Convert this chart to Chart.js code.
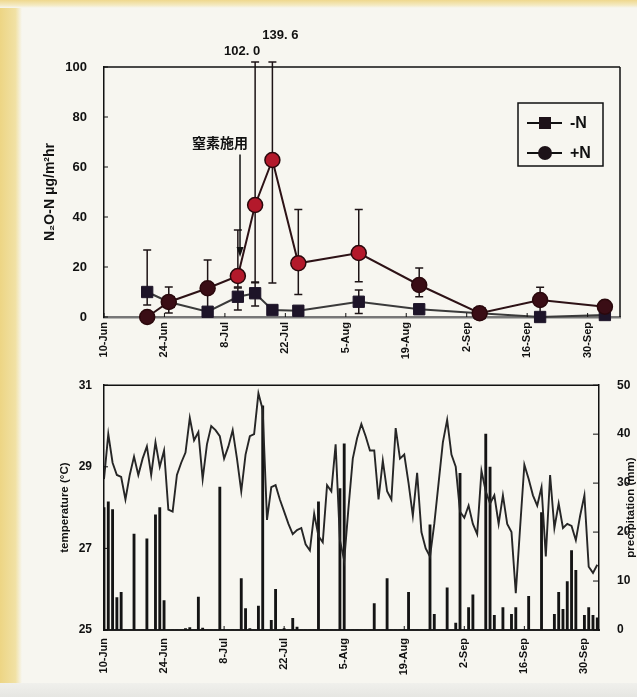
<!DOCTYPE html>
<html><head><meta charset="utf-8">
<script src="https://cdn.jsdelivr.net/npm/chart.js@4.4.1/dist/chart.umd.min.js"></script>
<style>
html,body{margin:0;padding:0;}
body{width:637px;height:697px;position:relative;overflow:hidden;background:#f7f6f0;}
#stripL{position:absolute;left:0;top:0;width:22px;height:697px;background:linear-gradient(to right,#edd584,#f1e1a4 70%,#f7f6f0);}
#stripT{position:absolute;left:0;top:0;width:637px;height:8px;background:linear-gradient(to bottom,#efd88e,#f4eac2 65%,#f7f6f0);}
#stripB{position:absolute;left:0;top:683px;width:637px;height:14px;background:linear-gradient(to bottom,#f0f0ec,#e6e6e2);}
canvas{position:absolute;left:0;}
#c1{top:0;}
#c2{top:360px;}
</style></head><body>
<div id="stripL"></div><div id="stripT"></div><div id="stripB"></div>
<canvas id="c1" width="637" height="375"></canvas>
<canvas id="c2" width="637" height="337"></canvas>
<script>
// ---- data ----
const tickDays = [0, 14, 28, 42, 56, 70, 84, 98, 112];
const tickLabels = ['10-Jun', '24-Jun', '8-Jul', '22-Jul', '5-Aug', '19-Aug', '2-Sep', '16-Sep', '30-Sep'];

// N2O-N flux sampling (days after 10-Jun)
const sampleDays = [10, 15, 24, 31, 35, 39, 45, 59, 73, 87, 101, 116];
const minusN     = [10, 6, 2.1, 8.1, 9.5, 2.8, 2.5, 6.1, 3.1, 1.5, 0, 0.8];
const minusNHigh = [26.8, 12, 2.1, 11.6, 13.7, 2.8, 2.5, 10.8, 5, 1.5, 0, 0.8];
const minusNLow  = [4.8, 1.6, 2.1, 2.8, 4.4, 2.8, 2.5, 1.4, 1.2, 1.5, 0, 0.8];
const plusN      = [0, 6, 11.5, 16.4, 44.8, 62.8, 21.5, 25.6, 12.8, 1.5, 6.8, 4.1];
const plusNHigh  = [0, 6, 22.8, 34.8, 102.0, 139.6, 43, 43, 19.6, 1.5, 11.9, 4.1];
const plusNLow   = [0, 6, 0.2, 12, 14, 13.6, 9, 14.1, 8.1, 1.5, 1.7, 4.1];
const fertilizerDay = 31.5;
const fertilizerLabel = '窒素施用';

// daily weather, day 0 = 10-Jun
const temperature = [
 28.7,29.8,29.1,28.8,28.75,28.2,28.8,29.25,28.8,29.2,
 29.5,28.8,29.6,29.0,29.4,27.95,27.9,28.8,29.1,29.35,
 30.2,29.65,29.85,28.7,29.55,30.0,29.9,29.75,29.2,29.5,
 29.9,29.2,28.4,29.3,29.75,29.8,30.8,30.4,27.7,28.5,
 28.55,28.2,27.9,27.6,27.35,27.45,27.5,27.1,26.95,27.85,
 27.3,27.15,28.55,28.4,29.55,27.2,26.7,28.0,29.2,29.7,
 30.05,29.75,29.4,29.4,28.2,29.15,28.4,28.2,29.95,29.2,
 29.3,28.6,27.8,28.85,27.4,27.0,26.8,27.6,28.6,29.6,
 30.15,29.3,29.0,27.9,27.75,28.05,27.6,27.35,28.9,28.4,
 28.1,28.3,27.6,28.3,27.6,27.4,25.9,27.5,29.05,28.7,
 28.3,28.05,28.5,26.8,28.8,27.5,28.1,27.5,27.6,27.55,
 27.2,27.8,28.3,26.55,26.4,26.6];
const precipitation = [
 25,26.2,24.6,6.6,7.7,0,0,19.6,0,0,
 18.6,0,23.5,25,6,0,0,0,0,0.3,
 0.5,0,6.7,0.4,0,0,0,29.2,0,0,
 0,0,10.5,4.4,0.3,0,4.9,45.8,0,2,
 8.3,0,0.3,0,2.4,0.6,0,0,0,0,
 26.2,0,0,0,0,28.9,38,0,0,0,
 0,0,0,5.4,0,0,10.5,0,0,0,
 0,7.7,0,0,0,0,21.5,3.2,0,0,
 8.6,0,1.4,32,0,4.6,7.2,0,0,40,
 33.3,3,0,4.6,0,3.2,4.6,0,0,6.9,
 0,0,24,0,0,3.2,7.7,4.2,9.9,16.2,
 12.2,0,3,4.6,3,2.5];

// ---- styling helpers ----
const FONT = "'Liberation Sans', Arial, 'DejaVu Sans', sans-serif";
const CJK = "'Noto Sans CJK JP', 'Noto Sans CJK SC', sans-serif";
const INK = '#111111';
const setTicks = axis => { axis.ticks = tickDays.map(v => ({ value: v })); };
const tickLabel = v => { const i = tickDays.indexOf(v); return i >= 0 ? tickLabels[i] : ''; };

const framePlugin = {
  id: 'frame',
  afterDraw(chart, args, o) {
    const { ctx, chartArea: a } = chart;
    ctx.save();
    ctx.strokeStyle = INK; ctx.lineWidth = 1.5;
    ctx.beginPath();
    ctx.moveTo(a.left, a.top); ctx.lineTo(a.right, a.top);
    if (o.right) { ctx.moveTo(a.right, a.top); ctx.lineTo(a.right, a.bottom); }
    ctx.stroke();
    ctx.lineWidth = 1;
    Object.values(chart.scales).forEach(s => {
      s.ticks.forEach(t => {
        const p = s.getPixelForValue(t.value);
        ctx.beginPath();
        if (s.axis === 'x') { ctx.moveTo(p, a.bottom); ctx.lineTo(p, a.bottom - 4); }
        else if (s.position === 'left') { ctx.moveTo(a.left, p); ctx.lineTo(a.left + 4, p); }
        else { ctx.moveTo(a.right, p); ctx.lineTo(a.right - 6, p); }
        ctx.stroke();
      });
    });
    if (o.sideTitle) {
      ctx.translate(o.sideTitle.x, (a.top + a.bottom) / 2);
      ctx.rotate(-Math.PI / 2);
      ctx.font = 'bold 11.5px ' + FONT;
      ctx.fillStyle = INK; ctx.textAlign = 'center'; ctx.textBaseline = 'middle';
      ctx.fillText(o.sideTitle.text, 0, 0);
    }
    ctx.restore();
  }
};

const errorBarPlugin = {
  id: 'errorBars',
  beforeDatasetsDraw(chart) {
    const { ctx, scales: { x, y } } = chart;
    const sets = [[minusN, minusNHigh, minusNLow], [plusN, plusNHigh, plusNLow]];
    ctx.save();
    ctx.strokeStyle = '#1e1416'; ctx.lineWidth = 1.5;
    const cap = (px, py) => { ctx.moveTo(px - 4, py); ctx.lineTo(px + 4, py); };
    sets.forEach(([v, hi, lo]) => {
      sampleDays.forEach((d, i) => {
        const px = x.getPixelForValue(d);
        const pv = y.getPixelForValue(v[i]);
        ctx.beginPath();
        if (hi[i] > v[i]) {
          const ph = y.getPixelForValue(Math.min(hi[i], 102));
          ctx.moveTo(px, pv); ctx.lineTo(px, ph); cap(px, ph);
        }
        if (lo[i] < v[i]) {
          const pl = y.getPixelForValue(Math.max(lo[i], 0));
          ctx.moveTo(px, pv); ctx.lineTo(px, pl); cap(px, pl);
        }
        ctx.stroke();
      });
    });
    ctx.restore();
  },
  afterDatasetsDraw(chart, args, o) {
    const { ctx, scales: { x, y }, chartArea: a } = chart;
    ctx.save();
    ctx.font = 'bold 13px ' + FONT;
    ctx.fillStyle = INK; ctx.textAlign = 'center'; ctx.textBaseline = 'middle';
    let k = 0;
    plusNHigh.forEach((h, i) => {
      if (h > y.max) {
        const off = o.overLabels[k++] || { dx: 0, dy: -16 };
        ctx.fillText(h.toFixed(1).replace('.', '. '), x.getPixelForValue(sampleDays[i]) + off.dx, a.top + off.dy);
      }
    });
    const ax = x.getPixelForValue(fertilizerDay);
    const y1 = y.getPixelForValue(o.arrow.from), y2 = y.getPixelForValue(o.arrow.to);
    ctx.strokeStyle = INK; ctx.lineWidth = 1.5;
    ctx.beginPath(); ctx.moveTo(ax, y1); ctx.lineTo(ax, y2 - 8); ctx.stroke();
    ctx.beginPath(); ctx.moveTo(ax - 3.5, y2 - 10); ctx.lineTo(ax + 3.5, y2 - 10); ctx.lineTo(ax, y2); ctx.closePath();
    ctx.fillStyle = INK; ctx.fill();
    ctx.font = 'bold 14px ' + CJK;
    ctx.fillText(fertilizerLabel, ax + o.arrow.textDx, y1 - 12);
    const L = o.legend;
    const bx = a.right - L.right - L.w, by = a.top + L.top;
    ctx.lineWidth = 1.5; ctx.strokeStyle = INK;
    ctx.strokeRect(bx, by, L.w, L.h);
    const rows = [{ t: '-N', s: 'rect' }, { t: '+N', s: 'circle' }];
    rows.forEach((r, i) => {
      const ry = by + 20 + i * 30;
      ctx.beginPath(); ctx.lineWidth = 2; ctx.moveTo(bx + 9, ry); ctx.lineTo(bx + 44, ry); ctx.stroke();
      ctx.fillStyle = '#1d1218';
      if (r.s === 'rect') ctx.fillRect(bx + 21, ry - 6, 12, 12);
      else { ctx.beginPath(); ctx.arc(bx + 27, ry, 7, 0, Math.PI * 2); ctx.fill(); }
      ctx.fillStyle = INK; ctx.font = 'bold 16px ' + FONT; ctx.textAlign = 'left';
      ctx.fillText(r.t, bx + 52, ry + 1);
    });
    ctx.restore();
  }
};

// ---- top chart: N2O-N flux ----
new Chart(document.getElementById('c1'), {
  type: 'line',
  data: {
    datasets: [
      {
        label: '+N',
        data: sampleDays.map((d, i) => ({ x: d, y: plusN[i] })),
        borderColor: '#2d1216', borderWidth: 2, tension: 0, clip: false,
        pointStyle: 'circle', pointRadius: 7.5,
        pointBackgroundColor: c => (c.raw && c.raw.y >= 15) ? '#b3192b' : '#3a0d15',
        pointBorderColor: '#2a080c', pointBorderWidth: 1.5
      },
      {
        label: '-N',
        data: sampleDays.map((d, i) => ({ x: d, y: minusN[i] })),
        borderColor: '#3a3a3a', borderWidth: 2, tension: 0, clip: false,
        pointStyle: 'rect', pointRadius: 8,
        pointBackgroundColor: '#1d1428', pointBorderColor: '#1d1428', pointBorderWidth: 1
      }
    ]
  },
  plugins: [errorBarPlugin, framePlugin],
  options: {
    responsive: false, animation: false, devicePixelRatio: 1,
    layout: { padding: { left: 38, top: 67, right: 17, bottom: 0 } },
    plugins: {
      legend: { display: false }, tooltip: { enabled: false },
      frame: { right: true },
      errorBars: {
        overLabels: [{ dx: -13, dy: -16 }, { dx: 8, dy: -32 }],
        arrow: { from: 65, to: 24, textDx: -20 },
        legend: { right: 17, top: 36, w: 85, h: 63 }
      }
    },
    scales: {
      x: {
        type: 'linear', min: 0, max: 119.5,
        afterBuildTicks: setTicks,
        afterFit: s => { s.height = 58; },
        grid: { display: false, drawTicks: false },
        border: { color: '#777', width: 2.5 },
        ticks: { callback: tickLabel, autoSkip: false, minRotation: 90, maxRotation: 90, padding: 5,
                 color: INK, font: { family: FONT, weight: 'bold', size: 11 } }
      },
      y: {
        min: 0, max: 100,
        afterFit: s => { s.width = 66; },
        grid: { display: false, drawTicks: false },
        border: { color: INK, width: 1.5 },
        ticks: { stepSize: 20, padding: 17, color: INK, font: { family: FONT, weight: 'bold', size: 13 } },
        title: { display: true, text: 'N₂O-N μg/m²hr', color: INK, font: { family: FONT, weight: 'bold', size: 14 }, padding: { top: 4, bottom: 4 } }
      }
    }
  }
});

// ---- bottom chart: temperature and precipitation ----
new Chart(document.getElementById('c2'), {
  type: 'bar',
  data: {
    datasets: [
      {
        type: 'line', label: 'temperature',
        data: temperature.map((t, i) => ({ x: i, y: t })),
        yAxisID: 'yT', borderColor: '#262626', borderWidth: 1.9, pointRadius: 0, tension: 0
      },
      {
        type: 'bar', label: 'precipitation',
        data: precipitation.map((p, i) => ({ x: i, y: p })),
        yAxisID: 'yP', backgroundColor: '#141414', barThickness: 2.2
      }
    ]
  },
  plugins: [framePlugin],
  options: {
    responsive: false, animation: false, devicePixelRatio: 1,
    layout: { padding: { left: 54, top: 21, right: 0, bottom: 0 } },
    plugins: {
      legend: { display: false }, tooltip: { enabled: false },
      frame: { right: false, sideTitle: { x: 631, text: 'precipitation (mm)' } }
    },
    scales: {
      x: {
        type: 'linear', min: 0, max: 115.4, offset: false,
        afterBuildTicks: setTicks,
        afterFit: s => { s.height = 67; },
        grid: { display: false, drawTicks: false },
        border: { color: '#222', width: 2 },
        ticks: { callback: tickLabel, autoSkip: false, minRotation: 90, maxRotation: 90, padding: 8,
                 color: INK, font: { family: FONT, weight: 'bold', size: 11 } }
      },
      yT: {
        position: 'left', min: 25, max: 31,
        afterFit: s => { s.width = 50; },
        grid: { display: false, drawTicks: false },
        border: { color: INK, width: 1.5 },
        ticks: { stepSize: 2, padding: 12, color: INK, font: { family: FONT, weight: 'bold', size: 12 } },
        title: { display: true, text: 'temperature (°C)', color: INK, font: { family: FONT, weight: 'bold', size: 11.5 }, padding: { top: 4, bottom: 4 } }
      },
      yP: {
        position: 'right', min: 0, max: 50,
        afterFit: s => { s.width = 38; },
        grid: { display: false, drawTicks: false },
        border: { color: INK, width: 1.5 },
        ticks: { stepSize: 10, padding: 18, color: INK, font: { family: FONT, weight: 'bold', size: 12 } }
      }
    }
  }
});
</script>
</body></html>
